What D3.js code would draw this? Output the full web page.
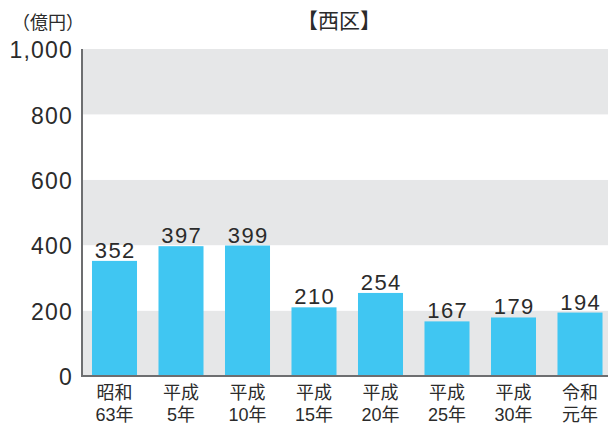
<!DOCTYPE html>
<html>
<head>
<meta charset="utf-8">
<script src="https://cdn.jsdelivr.net/npm/d3@7"></script>
<style>
  body { margin: 0; background: #fff; }
  text { font-family: "Liberation Sans", "Noto Sans CJK JP", sans-serif; fill: #2b2b2b; }
</style>
</head>
<body>
<script>
const categoriesTop = ['昭和', '平成', '平成', '平成', '平成', '平成', '平成', '令和']
const categoriesBottom = ['63年', '5年', '10年', '15年', '20年', '25年', '30年', '元年']
const values = [352, 397, 399, 210, 254, 167, 179, 194]
const yTicks = [0, 200, 400, 600, 800, 1000]
const title = '【西区】'
const unitLabel = '（億円）'

const size = { width: 608, height: 426 }
const margin = { top: 49, right: 0, bottom: 50, left: 82 }
const plotW = size.width - margin.left - margin.right
const plotH = size.height - margin.top - margin.bottom

const svg = d3.select('body')
  .append('svg')
  .attr('width', size.width)
  .attr('height', size.height)

const chart = svg.append('g')
  .attr('transform', `translate(${[margin.left, margin.top]})`)

const yScale = d3.scaleLinear().domain([0, 1000]).range([plotH, 0])
const xScale = d3.scaleBand()
  .domain(d3.range(values.length))
  .range([-0.75, 531.25])
  .paddingInner(0.323)
  .paddingOuter(0.1615)

// alternating bands
const bands = d3.range(yTicks.length - 1).map(i => [yTicks[i], yTicks[i + 1]])
chart.selectAll('.band')
  .data(bands)
  .enter()
  .append('rect')
  .attr('class', 'band')
  .attr('x', 0)
  .attr('width', plotW)
  .attr('y', d => yScale(d[1]))
  .attr('height', d => yScale(d[0]) - yScale(d[1]))
  .style('fill', (d, i) => (i % 2 === 0 ? '#e6e7e8' : '#ffffff'))

// bars
chart.selectAll('.bar')
  .data(values)
  .enter()
  .append('rect')
  .attr('class', 'bar')
  .attr('x', (d, i) => xScale(i))
  .attr('width', xScale.bandwidth())
  .attr('y', d => yScale(d))
  .attr('height', d => plotH - yScale(d))
  .style('fill', '#40c6f2')

// value labels
chart.selectAll('.value')
  .data(values)
  .enter()
  .append('text')
  .attr('class', 'value')
  .attr('x', (d, i) => xScale(i) + xScale.bandwidth() / 2 + 0.75)
  .attr('y', d => yScale(d) - 3)
  .attr('text-anchor', 'middle')
  .style('font-size', '22px')
  .style('letter-spacing', '1.5px')
  .text(d => d)

// axes lines
chart.append('line')
  .attr('x1', 0).attr('x2', 0)
  .attr('y1', 0).attr('y2', plotH + 1)
  .style('stroke', '#6d6e70').style('stroke-width', 2)
chart.append('line')
  .attr('x1', 0).attr('x2', plotW)
  .attr('y1', plotH).attr('y2', plotH)
  .style('stroke', '#6d6e70').style('stroke-width', 2)

// y tick labels
const fmt = d3.format(',')
chart.selectAll('.ytick')
  .data(yTicks)
  .enter()
  .append('text')
  .attr('class', 'ytick')
  .attr('x', -9)
  .attr('y', d => yScale(d))
  .attr('dy', '0.4em')
  .attr('text-anchor', 'end')
  .style('font-size', '23px')
  .style('letter-spacing', '1.2px')
  .text(d => fmt(d))

// x labels
const xLabels = chart.selectAll('.xlabel')
  .data(values.map((d, i) => i))
  .enter()
  .append('text')
  .attr('class', 'xlabel')
  .attr('text-anchor', 'middle')
  .style('font-size', '18px')

xLabels.append('tspan')
  .attr('x', i => xScale(i) + xScale.bandwidth() / 2)
  .attr('y', plotH + 23)
  .text(i => categoriesTop[i])
xLabels.append('tspan')
  .attr('x', i => xScale(i) + xScale.bandwidth() / 2)
  .attr('y', plotH + 45)
  .text(i => categoriesBottom[i])

// title and unit
svg.append('text')
  .attr('x', 339)
  .attr('y', 28)
  .attr('text-anchor', 'middle')
  .style('font-size', '21px')
  .text(title)

svg.append('text')
  .attr('x', 48)
  .attr('y', 29)
  .attr('text-anchor', 'middle')
  .style('font-size', '18px')
  .text(unitLabel)
</script>
</body>
</html>
